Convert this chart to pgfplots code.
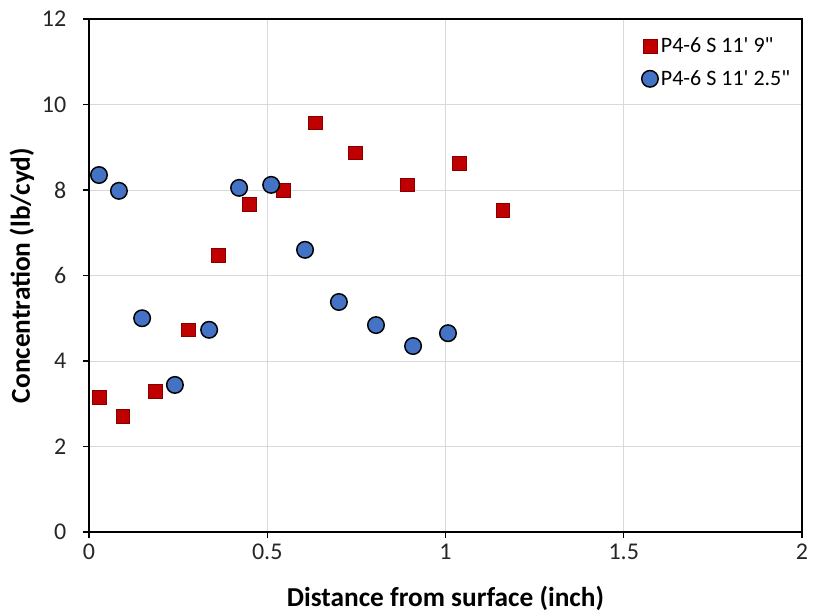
\documentclass[border=0pt]{standalone}
\usepackage{fontspec}
\setmainfont{Carlito}
\usepackage{pgfplots}
\pgfplotsset{compat=1.18}
\definecolor{sqred}{HTML}{C00000}
\definecolor{cblue}{HTML}{4472C4}
\definecolor{gridgray}{HTML}{D9D9D9}
\begin{document}
\begin{tikzpicture}
\begin{axis}[
  name=ax,
  scale only axis,
  width=534.75pt, height=384.75pt,
  xmin=0, xmax=2, ymin=0, ymax=12,
  xtick={0,0.5,...,2}, ytick={0,2,...,12},
  xticklabels={0,0.5,1,1.5,2},
  grid=major,
  grid style={gridgray, line width=0.6pt},
  axis line style={line width=1.2pt, black},
  tick align=outside,
  major tick length=4.5pt,
  tick style={line width=1pt, black},
  xtick pos=bottom, ytick pos=left,
  /pgf/number format/assume math mode=true,
  ticklabel style={font=\fontsize{18}{21}\selectfont, color=black!85},
  xticklabel style={yshift=-1pt},
  yticklabel style={xshift=-9pt},
  xlabel={\textbf{Distance from surface (inch)}},
  ylabel={\textbf{Concentration (lb/cyd)}},
  label style={font=\fontsize{20.5}{24}\selectfont},
  xlabel style={at={(axis description cs:0.5,-0.129)}, anchor=center},
  ylabel style={at={(axis description cs:-0.094,0.5)}, anchor=center, rotate=0},
  legend style={at={(axis description cs:0.995,0.98)}, anchor=north east, draw=none, fill=white,
    font=\fontsize{16.5}{19}\selectfont, row sep=8pt, inner sep=4pt},
  legend cell align=left,
]
\addplot[only marks, mark=square*, mark size=5.2pt,
  mark options={fill=sqred, draw=sqred!70!black, line width=0.5pt}]
coordinates {
(0.028,3.16) (0.095,2.71) (0.185,3.30) (0.278,4.73) (0.362,6.48) (0.449,7.67)
(0.544,8.00) (0.634,9.57) (0.746,8.87) (0.892,8.12) (1.038,8.63) (1.161,7.53)
};
\addlegendentry{P4-6 S 11\textquotesingle{} 9\textquotedbl}
\addplot[only marks, mark=*, mark size=6.2pt,
  mark options={fill=cblue, draw=black, line width=1.1pt}]
coordinates {
(0.028,8.35) (0.084,7.98) (0.149,5.00) (0.241,3.44) (0.337,4.73) (0.421,8.05)
(0.511,8.12) (0.606,6.60) (0.701,5.38) (0.805,4.84) (0.909,4.35) (1.007,4.65)
};
\addlegendentry{P4-6 S 11\textquotesingle{} 2.5\textquotedbl}
\end{axis}
\draw[line width=1.2pt] (ax.south east) -- (ax.north east) -- (ax.north west);
\pgfresetboundingbox
\path ([xshift=-66.75pt,yshift=-63pt]ax.south west) rectangle ([xshift=9pt,yshift=14.25pt]ax.north east);
\end{tikzpicture}
\end{document}
